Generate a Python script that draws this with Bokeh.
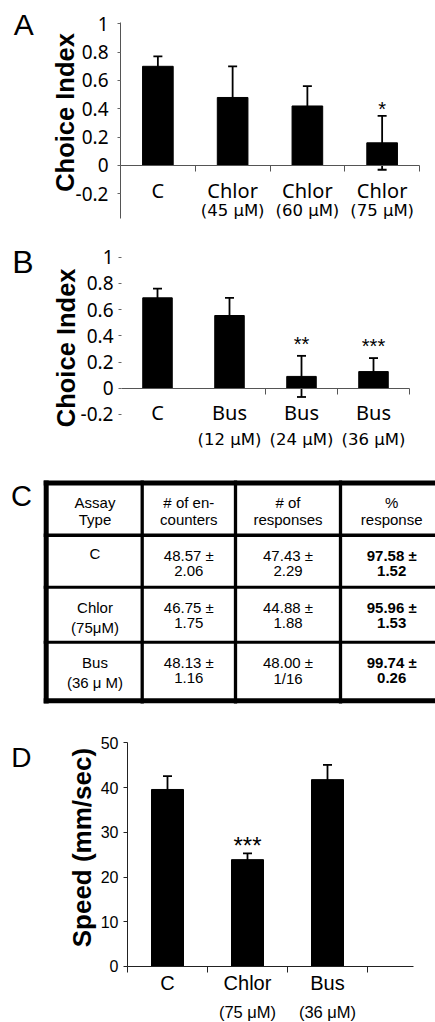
import numpy as np
from bokeh.plotting import figure
from bokeh.models import (ColumnDataSource, Range1d, FixedTicker, Whisker, TeeHead,
                          LinearAxis, NumeralTickFormatter, CustomJSTickFormatter)
from bokeh.layouts import column
from bokeh.embed import file_html
from bokeh.resources import INLINE
from bokeh.core.properties import value

# ---------------- data ----------------
# Panel A: choice index with chlorpromazine
a_names = ["C", "Chlor", "Chlor", "Chlor"]
a_doses = ["", "(45 μM)", "(60 μM)", "(75 μM)"]
a_means = [0.70, 0.48, 0.42, 0.16]
a_errs = [0.07, 0.22, 0.14, 0.19]
a_stars = ["", "", "", "*"]

# Panel B: choice index with buspirone
b_names = ["C", "Bus", "Bus", "Bus"]
b_doses = ["", "(12 μM)", "(24 μM)", "(36 μM)"]
b_means = [0.69, 0.555, 0.09, 0.127]
b_errs = [0.07, 0.135, 0.157, 0.103]
b_stars = ["", "", "**", "***"]

ci_ticks = [-0.2, 0, 0.2, 0.4, 0.6, 0.8, 1]

# Panel C: table
c_headers = [["Assay", "Type"], ["# of en-", "counters"], ["# of", "responses"], ["%", "response"]]
c_assay = ["C", "Chlor", "Bus"]
c_assay_sub = ["", "(75μM)", "(36 μ M)"]
c_enc_mean = ["48.57", "46.75", "48.13"]
c_enc_sem = ["2.06", "1.75", "1.16"]
c_resp_mean = ["47.43", "44.88", "48.00"]
c_resp_sem = ["2.29", "1.88", "1/16"]
c_pct_mean = ["97.58", "95.96", "99.74"]
c_pct_sem = ["1.52", "1.53", "0.26"]

# Panel D: speed
d_names = ["C", "Chlor", "Bus"]
d_doses = ["", "(75 μM)", "(36 μM)"]
d_means = [39.6, 23.9, 41.8]
d_errs = [3.0, 1.4, 3.3]
d_stars = ["", "***", ""]
d_ticks = [0, 10, 20, 30, 40, 50]

W = 435
BLANK = CustomJSTickFormatter(code="return ''")


def make_src(names, doses, means, errs, stars):
    m = np.array(means, dtype=float)
    e = np.array(errs, dtype=float)
    return ColumnDataSource(dict(x=np.arange(len(m)) + 0.5, top=m, upper=m + e, lower=m - e,
                                 name=names, dose=doses, star=stars))


def base_fig(height, xr, yr):
    p = figure(width=W, height=height, title=None, x_range=Range1d(*xr), y_range=Range1d(*yr),
               x_axis_location=None, y_axis_location=None, output_backend="svg",
               toolbar_location=None, min_border=0)
    p.outline_line_color = None
    p.xgrid.visible = False
    p.ygrid.visible = False
    return p


def add_bars(p, src, width):
    p.add_layout(Whisker(source=src, base="x", upper="upper", lower="lower", dimension="height",
                         line_color="black", line_width=1.8,
                         upper_head=TeeHead(size=9, line_color="black", line_width=1.8),
                         lower_head=TeeHead(size=9, line_color="black", line_width=1.8)))
    p.vbar(x="x", top="top", bottom=0, width=width, source=src,
           fill_color="black", line_color="black")


def add_y_axis(p, ticks, bounds, formatter, font, size, standoff, tick_out, line_color, tick_color):
    ax = LinearAxis(fixed_location=0, bounds=bounds, ticker=FixedTicker(ticks=ticks),
                    major_tick_out=tick_out, major_tick_in=0, minor_tick_out=0, minor_tick_in=0,
                    axis_line_color=line_color, major_tick_line_color=tick_color,
                    major_label_standoff=standoff, major_label_text_font=font,
                    major_label_text_font_size=size, major_label_text_color="black")
    if formatter is not None:
        ax.formatter = formatter
    p.add_layout(ax, "left")


def add_x_axis(p, n, tick_pos, color):
    ax = LinearAxis(fixed_location=0, bounds=(0, n), ticker=FixedTicker(ticks=list(tick_pos)),
                    formatter=BLANK, major_tick_out=6, major_tick_in=0, minor_tick_out=0,
                    minor_tick_in=0, axis_line_color=color, major_tick_line_color=color,
                    major_label_standoff=0)
    p.add_layout(ax, "below")


def add_text(p, x, y, text, font, size, bold=False, align="left", angle=0.0):
    p.text(x=[x], y=[y], text=[text], angle=angle, text_align=align, text_baseline="middle",
           text_font=value(font), text_font_size=size,
           text_font_style="bold" if bold else "normal", text_color="black")


def choice_panel(names, doses, means, errs, stars, letter, height, xr, yr, ybounds, show_yline,
                 tick_from, name_y, dose_y, star_pad, letter_xy, letter_size, title_xy, standoff):
    src = make_src(names, doses, means, errs, stars)
    n = len(means)
    p = base_fig(height, xr, yr)
    add_y_axis(p, ci_ticks, ybounds, NumeralTickFormatter(format="0.[0]"), "Noto Sans", "19px",
               standoff, 3, "#555555" if show_yline else None, "#666666")
    add_x_axis(p, n, np.arange(tick_from, n + 1), "#555555")
    add_bars(p, src, 0.41)
    p.text(x="x", y=name_y, text="name", source=src, text_align="center", text_baseline="middle",
           text_font=value("Noto Sans"), text_font_size="20px", text_color="black")
    p.text(x="x", y=dose_y, text="dose", source=src, text_align="center", text_baseline="middle",
           text_font=value("DejaVu Sans"), text_font_size="16.5px", text_color="black")
    sy = np.array(src.data["upper"]) + star_pad
    p.text(x=src.data["x"], y=sy, text=stars, text_align="center", text_baseline="middle",
           text_font=value("Liberation Sans"), text_font_size="20px", text_color="black")
    add_text(p, letter_xy[0], letter_xy[1], letter, "Liberation Sans", letter_size)
    add_text(p, title_xy[0], title_xy[1], "Choice Index", "Liberation Sans", "25.5px",
             bold=True, align="center", angle=np.pi / 2)
    return p


pA = choice_panel(a_names, a_doses, a_means, a_errs, a_stars, "A", 240,
                  (-1.6054, 4.2140), (-0.5293, 1.1644), (-0.376, 1.011), True,
                  1, -0.176, -0.318, 0.048, (-1.4274, 0.9937), "30px", (-0.749, 0.374), 9)
pB = choice_panel(b_names, b_doses, b_means, b_errs, b_stars, "B", 225,
                  (-1.6806, 4.3611), (-0.590, 1.1275), (-0.2, 1.0), False,
                  2, -0.183, -0.392, 0.09, (-1.518, 0.962), "32px", (-0.764, 0.308), 5)

# ---------------- Panel C: table ----------------
CH = 247
pC = base_fig(CH, (0, W), (CH, 0))

col_centers = [94.5, 188.3, 287.5, 391.2]
hlines_y = [17.5, 69.8, 121.7, 176.7, 235.3]
hlines_w = [5, 3.5, 3, 3, 5]
vlines_x = [45.7, 141.7, 235, 340]
vlines_w = [5, 3.3, 3.3, 3.3]
pC.segment(x0=[43.2] * len(hlines_y), x1=[450] * len(hlines_y), y0=hlines_y, y1=hlines_y,
           line_width=hlines_w, line_color="black")
pC.segment(x0=vlines_x, x1=vlines_x, y0=[15] * len(vlines_x), y1=[238] * len(vlines_x),
           line_width=vlines_w, line_color="black")

hx, hy, ht = [], [], []
for ci, lines in enumerate(c_headers):
    for li, t in enumerate(lines):
        hx.append(col_centers[ci]); hy.append(36.7 + 17.6 * li); ht.append(t)
pC.text(x=hx, y=hy, text=ht, text_align="center", text_baseline="middle",
        text_font=value("Liberation Sans"), text_font_size="15px", text_color="black")

row_tops = [69.8, 121.7, 176.7]
rx, ry, rt = [], [], []
bx, by, bt = [], [], []
for ri in range(len(c_assay)):
    y1 = row_tops[ri] + 20
    rx += [col_centers[0], col_centers[0]]
    ry += [y1 - (2 if ri == 0 else 0), y1 + 20]
    rt += [c_assay[ri], c_assay_sub[ri]]
    rx += [col_centers[1], col_centers[1], col_centers[2], col_centers[2]]
    ry += [y1, y1 + 16, y1, y1 + 16]
    rt += [c_enc_mean[ri] + " ±", c_enc_sem[ri], c_resp_mean[ri] + " ±", c_resp_sem[ri]]
    bx += [col_centers[3], col_centers[3]]
    by += [y1, y1 + 16]
    bt += [c_pct_mean[ri] + " ±", c_pct_sem[ri]]
pC.text(x=rx, y=ry, text=rt, text_align="center", text_baseline="middle",
        text_font=value("Liberation Sans"), text_font_size="15px", text_color="black")
pC.text(x=bx, y=by, text=bt, text_align="center", text_baseline="middle",
        text_font=value("Liberation Sans"), text_font_size="15px", text_font_style="bold",
        text_color="black")
add_text(pC, 10.5, 30.5, "C", "Liberation Sans", "29px")

# ---------------- Panel D: speed ----------------
srcD = make_src(d_names, d_doses, d_means, d_errs, d_stars)
nD = len(d_means)
pD = base_fig(310, (-1.5875, 3.85), (-12.53, 56.82))
add_y_axis(pD, d_ticks, (0, 50.1), None, "Liberation Sans", "16px", 5, 4, "#222222", "#222222")
add_x_axis(pD, 3.574, np.arange(0, nD + 1), "#222222")
add_bars(pD, srcD, 0.40)
pD.text(x="x", y=-3.8, text="name", source=srcD, text_align="center", text_baseline="middle",
        text_font=value("Liberation Sans"), text_font_size="20px", text_color="black")
pD.text(x="x", y=-10.2, text="dose", source=srcD, text_align="center", text_baseline="middle",
        text_font=value("Liberation Sans"), text_font_size="16.5px", text_color="black")
pD.text(x=srcD.data["x"], y=np.array(srcD.data["upper"]) + 1.66, text=d_stars,
        text_align="center", text_baseline="middle", text_font=value("Liberation Sans"),
        text_font_size="24px", text_color="black")
add_text(pD, -1.4525, 46.76, "D", "Liberation Sans", "28px")
add_text(pD, -0.566, 26.6, "Speed (mm/sec)", "Liberation Sans", "26px", bold=True,
         align="center", angle=np.pi / 2)

layout = column(pA, pB, pC, pD, spacing=0)
open("out.html", "w").write(file_html(layout, INLINE))
